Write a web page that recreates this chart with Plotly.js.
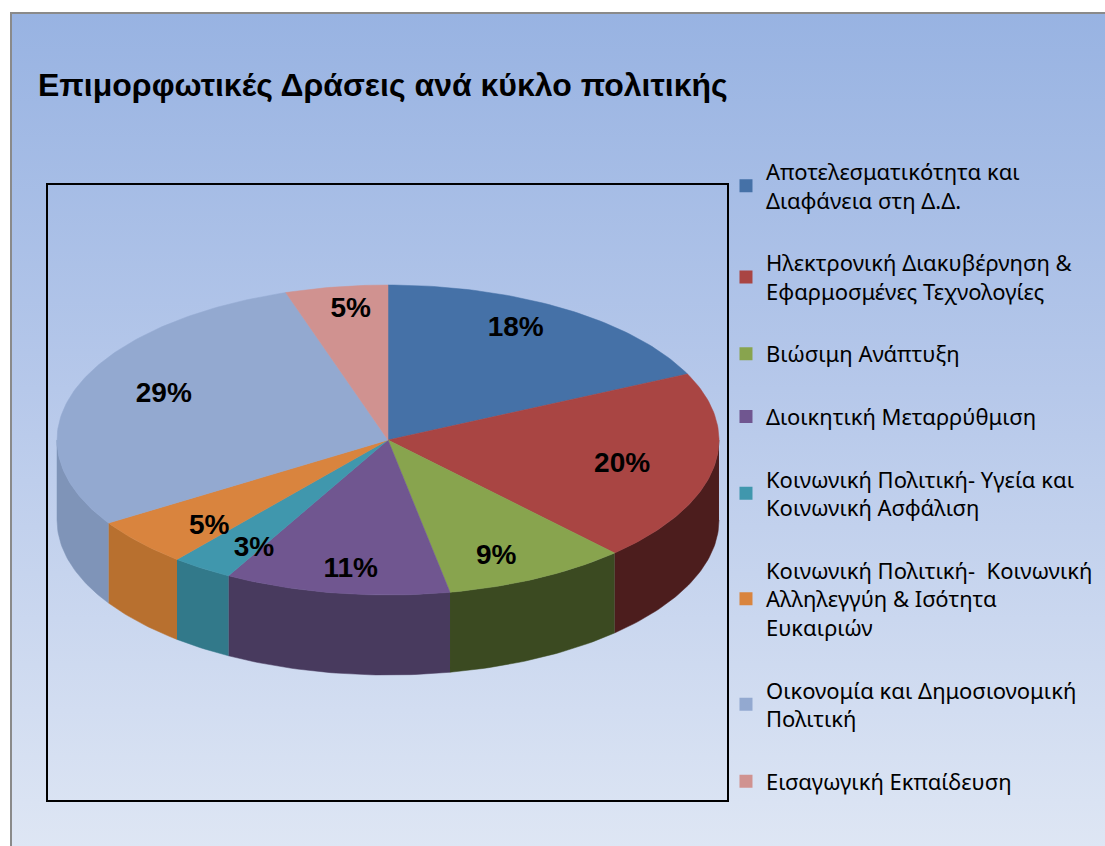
<!DOCTYPE html>
<html><head><meta charset="utf-8">
<script src="https://cdn.plot.ly/plotly-3.0.1.min.js"></script>
<style>
html,body{margin:0;padding:0;background:#fff;width:1105px;height:846px;overflow:hidden}
#bg{position:absolute;left:10px;top:12px;width:1095px;height:834px;border-left:2px solid #8a8a8a;border-top:2px solid #8a8a8a;background:linear-gradient(to bottom,#98b3e2 0%,#b6c8ea 45%,#dee6f4 100%)}
#chart{position:absolute;left:0;top:0;width:1105px;height:846px}
</style></head><body><div id="bg"></div><div id="chart"></div>
<script>
// ---- data ----
const chartTitle = "Επιμορφωτικές Δράσεις ανά κύκλο πολιτικής";
const categories = [
  "Αποτελεσματικότητα και<br>Διαφάνεια στη Δ.Δ.",
  "Ηλεκτρονική Διακυβέρνηση &<br>Εφαρμοσμένες Τεχνολογίες",
  "Βιώσιμη Ανάπτυξη",
  "Διοικητική Μεταρρύθμιση",
  "Κοινωνική Πολιτική- Υγεία και<br>Κοινωνική Ασφάλιση",
  "Κοινωνική Πολιτική-  Κοινωνική<br>Αλληλεγγύη & Ισότητα<br>Ευκαιριών",
  "Οικονομία και Δημοσιονομική<br>Πολιτική",
  "Εισαγωγική Εκπαίδευση"
];
const values = [18, 20, 9, 11, 3, 5, 29, 5];
const topColors  = ["#4571a7", "#a94543", "#88a44e", "#705690", "#4097ad", "#d9843e", "#93a9d0", "#d09290"];
const sideColors = ["#2d4a6e", "#4c1d1d", "#3b4a21", "#483a5e", "#32798a", "#b8702f", "#7f94b8", "#a36d6b"];

// ---- geometry (tilted pie built from the values) ----
const RX = 1, RY = 0.4683, DEPTH = 0.2417, LABEL_RX = 0.72, LABEL_RY = 0.85;
const total = values.reduce((a, b) => a + b, 0);
function pt(deg, dy) {
  const r = deg * Math.PI / 180;
  return [RX * Math.sin(r), RY * Math.cos(r) + dy];
}
function arc(a0, a1, dy) {
  const xs = [], ys = [];
  const n = Math.max(2, Math.ceil(Math.abs(a1 - a0)));
  for (let k = 0; k <= n; k++) {
    const p = pt(a0 + (a1 - a0) * k / n, dy);
    xs.push(p[0]); ys.push(p[1]);
  }
  return [xs, ys];
}
const starts = [], ends = [];
let cum = 0;
values.forEach(v => { starts.push(cum / total * 360); cum += v; ends.push(cum / total * 360); });

const traces = [];
// side walls (front half only)
values.forEach((v, i) => {
  const s = Math.max(starts[i], 90), e = Math.min(ends[i], 270);
  if (s >= e) return;
  const top = arc(s, e, 0), bot = arc(e, s, -DEPTH);
  traces.push({
    type: "scatter", mode: "lines", fill: "toself",
    x: top[0].concat(bot[0]), y: top[1].concat(bot[1]),
    fillcolor: sideColors[i], line: {color: sideColors[i], width: 0.5},
    showlegend: false, hoverinfo: "skip"
  });
});
// top faces
values.forEach((v, i) => {
  const a = arc(starts[i], ends[i], 0);
  traces.push({
    type: "scatter", mode: "lines", fill: "toself",
    x: [0].concat(a[0], [0]), y: [0].concat(a[1], [0]),
    fillcolor: topColors[i], line: {color: topColors[i], width: 0.5},
    name: categories[i], legendgroup: "g" + i, showlegend: false,
    hoverinfo: "name"
  });
});
// percentage labels
const lx = [], ly = [], lt = [];
values.forEach((v, i) => {
  const p = pt((starts[i] + ends[i]) / 2, 0);
  lx.push(p[0] * LABEL_RX); ly.push(p[1] * LABEL_RY);
  lt.push(Math.round(v / total * 100) + "%");
});
traces.push({
  type: "scatter", mode: "text", x: lx, y: ly, text: lt,
  textposition: "middle center",
  textfont: {family: "Liberation Sans, sans-serif", size: 28, color: "#000", weight: "bold"},
  showlegend: false, hoverinfo: "skip"
});
// legend entries
values.forEach((v, i) => {
  traces.push({
    type: "scatter", mode: "markers", x: [null], y: [null],
    marker: {symbol: "square", size: 13, color: topColors[i]},
    name: categories[i], legendgroup: "g" + i, showlegend: true
  });
});

const layout = {
  width: 1105, height: 846,
  margin: {l: 0, r: 0, t: 0, b: 0},
  paper_bgcolor: "rgba(0,0,0,0)", plot_bgcolor: "rgba(0,0,0,0)",
  title: {
    text: chartTitle, x: 38 / 1105, xanchor: "left", xref: "paper",
    y: 1 - 85 / 846, yanchor: "middle", yref: "paper",
    font: {family: "Liberation Sans, sans-serif", size: 32, color: "#000", weight: "bold"}
  },
  xaxis: {
    domain: [48 / 1105, 727 / 1105], range: [-1.0272, 1.0242],
    showgrid: false, zeroline: false, showticklabels: false, ticks: "",
    showline: true, mirror: true, linecolor: "#000", linewidth: 2, fixedrange: true
  },
  yaxis: {
    domain: [1 - 800 / 846, 1 - 185 / 846], range: [-1.0876, 0.7704],
    showgrid: false, zeroline: false, showticklabels: false, ticks: "",
    showline: true, mirror: true, linecolor: "#000", linewidth: 2, fixedrange: true
  },
  showlegend: true,
  legend: {
    x: 0.657, xanchor: "left", y: 0.822, yanchor: "top",
    bgcolor: "rgba(0,0,0,0)", tracegroupgap: 31, traceorder: "grouped",
    font: {family: "Noto Sans, sans-serif", size: 22, color: "#000"}
  }
};
Plotly.newPlot("chart", traces, layout, {displayModeBar: false});
</script></body></html>
